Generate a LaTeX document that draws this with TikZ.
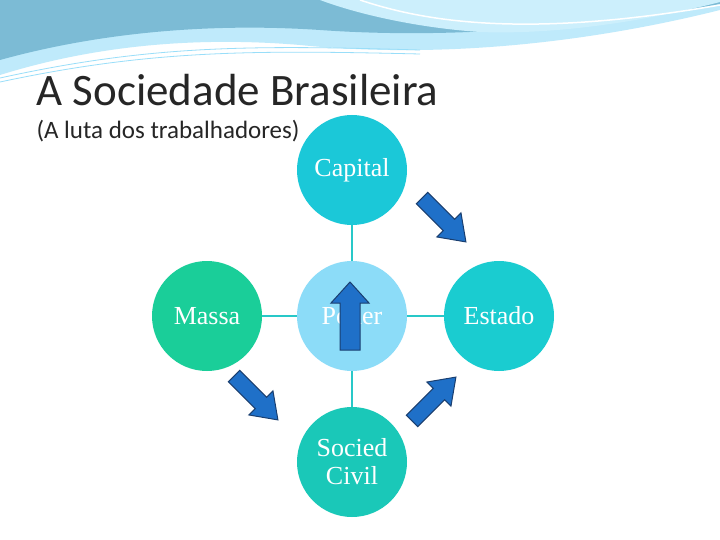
\documentclass[tikz,border=0pt]{standalone}
\usepackage{fontspec}
\setmainfont{Liberation Serif}
\newfontfamily\titlefont{Carlito}
\begin{document}
\begin{tikzpicture}[x=1pt,y=-1pt,
  circ/.style={circle,minimum size=110pt,inner sep=0pt,font=\fontsize{26}{28}\selectfont,text=white,align=center},
  conn/.style={draw={rgb,255:red,40;green,200;blue,200},line width=2.5pt},
  barrow/.pic={\filldraw[fill=arrowblue,draw=arrowedge,line width=1pt]
     (-31,-8)--(7,-8)--(7,-17)--(31,0)--(7,17)--(7,8)--(-31,8)--cycle;}]
\definecolor{arrowblue}{HTML}{1F70C8}
\definecolor{arrowedge}{HTML}{1A3F70}
\useasboundingbox (0,0) rectangle (720,540);
\fill[white] (0,0) rectangle (720,540);
% top decoration
\fill[cyan!25] (0,0) -- (720,0) -- (720,10) .. controls (600,40) and (450,60) .. (300,45) .. controls (180,35) and (80,50) .. (0,75) -- cycle;
\fill[cyan!45!teal!60] (0,0) -- (720,0) -- (720,4) .. controls (600,25) and (460,40) .. (320,30) .. controls (200,22) and (90,35) .. (0,60) -- cycle;
\fill[cyan!20] (320,0) -- (720,0) -- (720,2) .. controls (650,20) and (560,35) .. (480,32) .. controls (420,28) and (360,15) .. (320,0) -- cycle;
\draw[white,line width=1.5pt] (360,0) .. controls (420,20) and (520,40) .. (720,5);
\draw[cyan!40,line width=0.8pt] (0,78) .. controls (150,45) and (250,45) .. (420,50);
\draw[cyan!40,line width=0.8pt] (0,82) .. controls (150,50) and (250,50) .. (420,54);
% titles
\node[anchor=west,font=\titlefont\fontsize{45}{48}\selectfont,text=black!85] (t) at (33,90) {A Sociedade Brasileira};
\node[anchor=west,font=\titlefont\fontsize{25}{27}\selectfont,text=black!85] (s) at (33,131) {(A luta dos trabalhadores)};
% circles
\node[circ,fill={rgb,255:red,27;green,200;blue,216}] (cap) at (352,170) {Capital};
\node[circ,fill={rgb,255:red,26;green,206;blue,153}] (mas) at (207,316) {Massa};
\node[circ,fill={rgb,255:red,140;green,220;blue,248}] (pod) at (352,316) {Poder};
\node[circ,fill={rgb,255:red,26;green,204;blue,208}] (est) at (499,316) {Estado};
\node[circ,fill={rgb,255:red,26;green,200;blue,184}] (soc) at (352,462) {Socied\\Civil};
\draw[conn] (cap) -- (pod);
\draw[conn] (mas) -- (pod);
\draw[conn] (pod) -- (est);
\draw[conn] (pod) -- (soc);
% arrows
\pic[rotate=-45] at (444,220) {barrow};
\pic[rotate=-45] at (256,398) {barrow};
\pic[rotate=45] at (434,399) {barrow};
\filldraw[fill=arrowblue,draw=arrowedge,line width=1pt]
  (340,350)--(340,303)--(331,303)--(350,282)--(369,303)--(360,303)--(360,350)--cycle;
\end{tikzpicture}
\end{document}
